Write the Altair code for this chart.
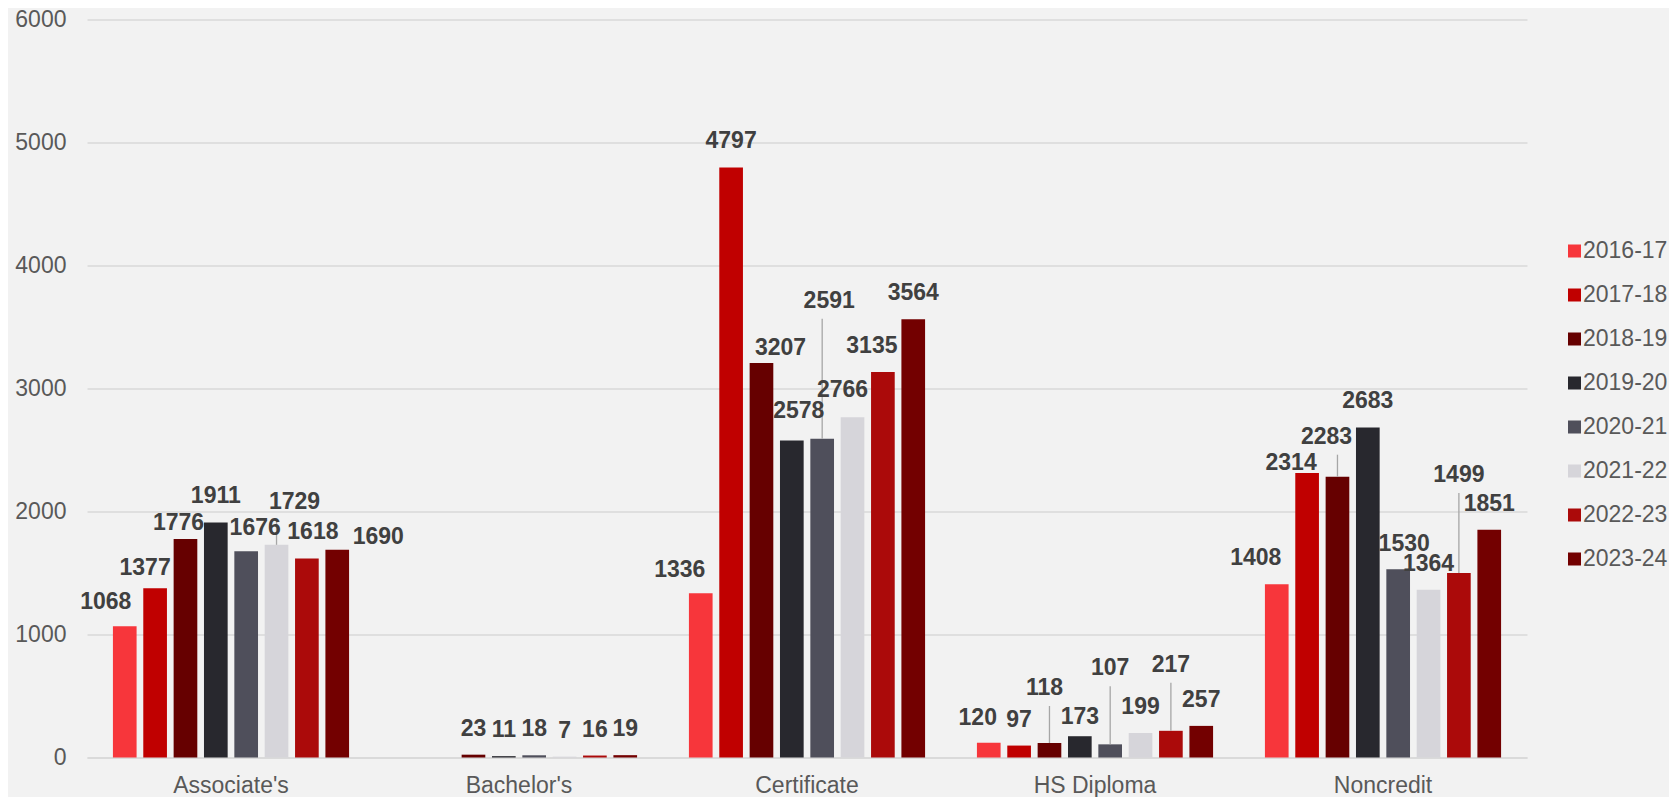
import altair as alt
import pandas as pd

categories = ["Associate's", "Bachelor's", "Certificate", "HS Diploma", "Noncredit"]
years = ["2016-17", "2017-18", "2018-19", "2019-20", "2020-21", "2021-22", "2022-23", "2023-24"]

v_2016_17 = [1068, None, 1336, 120, 1408]
v_2017_18 = [1377, None, 4797, 97, 2314]
v_2018_19 = [1776, 23, 3207, 118, 2283]
v_2019_20 = [1911, 11, 2578, 173, 2683]
v_2020_21 = [1676, 18, 2591, 107, 1530]
v_2021_22 = [1729, 7, 2766, 199, 1364]
v_2022_23 = [1618, 16, 3135, 217, 1499]
v_2023_24 = [1690, 19, 3564, 257, 1851]
series_values = [v_2016_17, v_2017_18, v_2018_19, v_2019_20,
                 v_2020_21, v_2021_22, v_2022_23, v_2023_24]

colors = ["#f7363b", "#c00000", "#660000", "#28282e",
          "#4f4f5b", "#d6d5da", "#ab0a0a", "#730000"]

# label nudges (pixels): (dx, height of label centre above bar top, leader line?)
DEFAULT_NUDGE = (0, 26, False)
label_nudges = {
    ("Associate's", "2016-17"): (-19, 24, False),
    ("Associate's", "2017-18"): (-10, 20, False),
    ("Associate's", "2018-19"): (-7, 16, False),
    ("Associate's", "2020-21"): (9, 23, False),
    ("Associate's", "2021-22"): (18, 43, True),
    ("Associate's", "2022-23"): (6, 26, False),
    ("Associate's", "2023-24"): (41, 13, False),
    ("Certificate", "2016-17"): (-21, 23, False),
    ("Certificate", "2018-19"): (19, 15, False),
    ("Certificate", "2019-20"): (7, 29, False),
    ("Certificate", "2020-21"): (7, 138, True),
    ("Certificate", "2021-22"): (-10, 27, False),
    ("Certificate", "2022-23"): (-11, 26, False),
    ("HS Diploma", "2016-17"): (-11, 25, False),
    ("HS Diploma", "2018-19"): (-5, 55, True),
    ("HS Diploma", "2019-20"): (0, 19, False),
    ("HS Diploma", "2020-21"): (0, 76, True),
    ("HS Diploma", "2022-23"): (0, 66, True),
    ("Noncredit", "2016-17"): (-21, 26, False),
    ("Noncredit", "2017-18"): (-16, 10, False),
    ("Noncredit", "2018-19"): (-11, 40, True),
    ("Noncredit", "2020-21"): (6, 25, False),
    ("Noncredit", "2022-23"): (0, 98, True),
}

Y_MAX = 6000
PLOT_W, PLOT_H = 1440, 738
UNITS_PER_PX = Y_MAX / PLOT_H

rows = []
for yr, vals in zip(years, series_values):
    for cat, v in zip(categories, vals):
        if v is None:
            continue
        dx, above, lead = label_nudges.get((cat, yr), DEFAULT_NUDGE)
        rows.append({
            "category": cat, "year": yr, "value": v,
            "ndx": dx, "above": above,
            "lead": 1 if lead else 0,
            "lead_top": v + (above - 18) * UNITS_PER_PX if lead else v,
        })
df = pd.DataFrame(rows)

FONT = "Liberation Sans"

x_enc = alt.X("category:N", sort=categories,
              scale=alt.Scale(paddingInner=0.18, paddingOuter=0.09),
              axis=alt.Axis(title=None, labelAngle=0, labelFontSize=23,
                            labelColor="#595959", labelPadding=17,
                            domain=True, domainColor="#d9d9d9", domainWidth=1.5,
                            ticks=False, grid=False, labelFont=FONT))
xo_enc = alt.XOffset("year:N", sort=years,
                     scale=alt.Scale(paddingInner=0.22, paddingOuter=0))
y_enc = alt.Y("value:Q",
              scale=alt.Scale(domain=[0, Y_MAX], nice=False, zero=True),
              axis=alt.Axis(title=None, values=[0, 1000, 2000, 3000, 4000, 5000, 6000],
                            format="d",
                            labelFontSize=23, labelColor="#595959", labelPadding=21,
                            domain=False, ticks=False, grid=True,
                            gridColor="#d9d9d9", gridWidth=1.5, labelFont=FONT))

base = alt.Chart(df)

bars = base.mark_bar(strokeWidth=0).encode(
    x=x_enc, xOffset=xo_enc, y=y_enc,
    color=alt.Color("year:N", sort=years,
                    scale=alt.Scale(domain=years, range=colors),
                    legend=alt.Legend(title=None, orient="none",
                                      legendX=1476, legendY=220,
                                      symbolType="square", symbolSize=169,
                                      symbolStrokeWidth=0,
                                      labelFontSize=23, labelColor="#595959",
                                      labelFont=FONT, rowPadding=20,
                                      labelOffset={"expr": "-3"}, padding=0)),
)

leaders = base.transform_filter("datum.lead == 1").mark_rule(
    color="#a6a6a6", strokeWidth=1.3
).encode(x=x_enc, xOffset=xo_enc, y="value:Q", y2="lead_top:Q")

labels = base.mark_text(
    font=FONT, fontSize=23, fontWeight="bold", color="#404040",
    baseline="middle", align="center",
    dx={"expr": "datum.ndx"}, dy={"expr": "-datum.above"},
).encode(x=x_enc, xOffset=xo_enc, y="value:Q", text="value:Q")

chart = alt.layer(bars, leaders, labels).properties(
    width=PLOT_W, height=PLOT_H,
    autosize="none",
    padding={"left": 79, "top": 11.5, "right": 142, "bottom": 39.5},
    background="#f2f2f2",
).configure(font=FONT).configure_view(strokeWidth=0, stroke="transparent")

chart.save("out.html", embed_options={"renderer": "svg", "actions": False})
